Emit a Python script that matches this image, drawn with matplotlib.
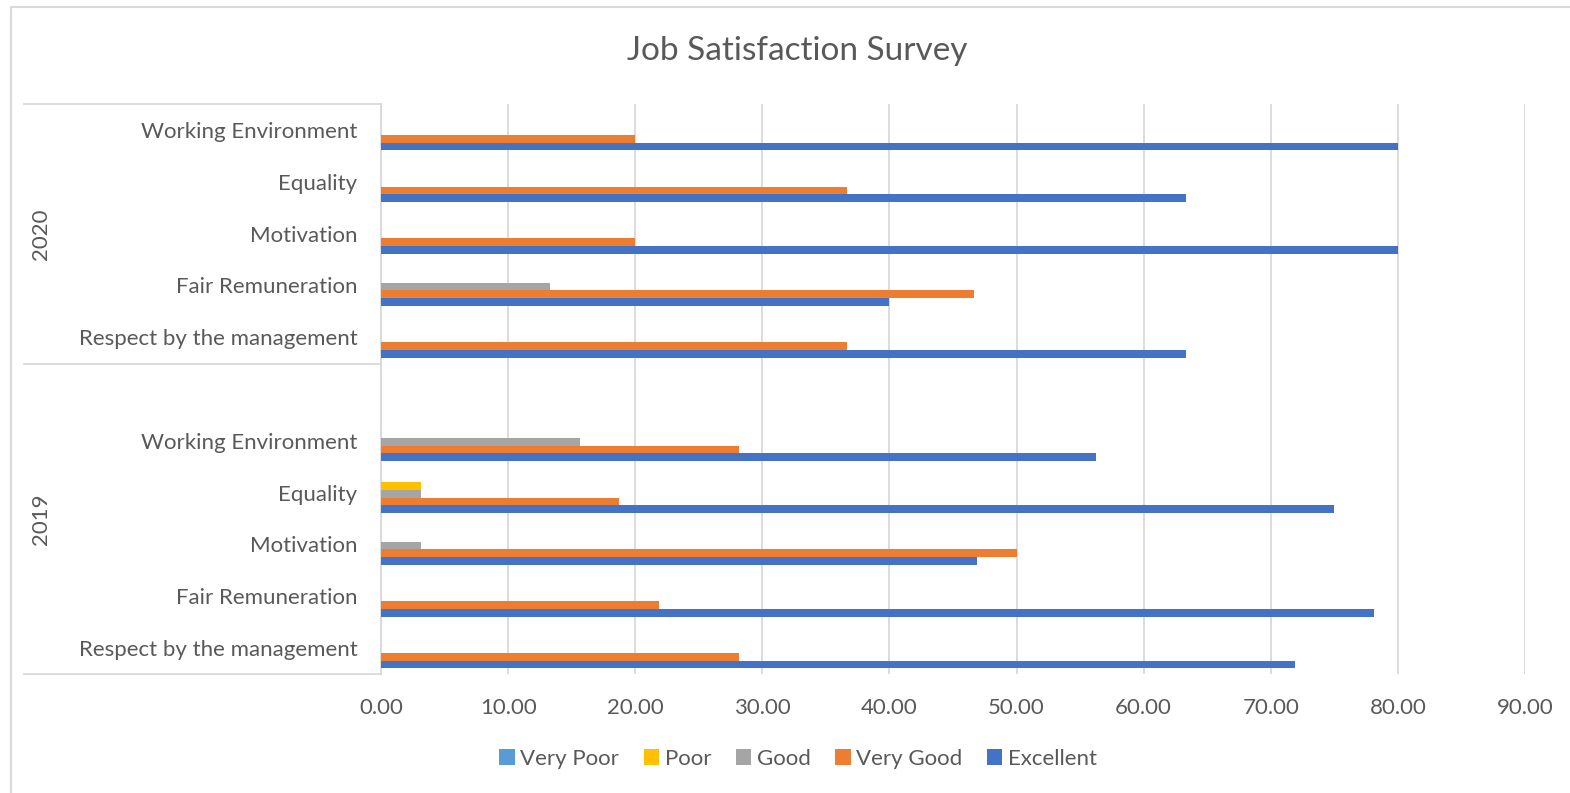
import matplotlib
matplotlib.use("Agg")
import matplotlib.pyplot as plt
from matplotlib.lines import Line2D
from matplotlib.patches import Rectangle, Patch
import numpy as np

plt.rcParams['font.family'] = ['Lato', 'DejaVu Sans']

title = "Job Satisfaction Survey"
years = ["2019", "2020"]
categories = ["Respect by the management", "Fair Remuneration", "Motivation",
              "Equality", "Working Environment"]
series = ["Very Poor", "Poor", "Good", "Very Good", "Excellent"]
colors = ["#5B9BD5", "#FFC000", "#A5A5A5", "#ED7D31", "#4472C4"]

# values per series, category order as in `categories`
very_poor_2019 = [0, 0, 0, 0, 0]
poor_2019 = [0, 0, 0, 3.13, 0]
good_2019 = [0, 0, 3.13, 3.13, 15.63]
very_good_2019 = [28.13, 21.88, 50.00, 18.75, 28.13]
excellent_2019 = [71.88, 78.13, 46.88, 75.00, 56.25]

very_poor_2020 = [0, 0, 0, 0, 0]
poor_2020 = [0, 0, 0, 0, 0]
good_2020 = [0, 13.33, 0, 0, 0]
very_good_2020 = [36.67, 46.67, 20.00, 36.67, 20.00]
excellent_2020 = [63.33, 40.00, 80.00, 63.33, 80.00]

x_ticks = [0, 10, 20, 30, 40, 50, 60, 70, 80, 90]

data_2019 = [very_poor_2019, poor_2019, good_2019, very_good_2019, excellent_2019]
data_2020 = [very_poor_2020, poor_2020, good_2020, very_good_2020, excellent_2020]

W, H = 1570, 793
fig = plt.figure(figsize=(W / 100, H / 100), dpi=100)
fig.patch.set_facecolor("white")

ax_left, ax_right, ax_top, ax_bottom = 381, 1525, 104, 674
ax = fig.add_axes([ax_left / W, 1 - ax_bottom / H, (ax_right - ax_left) / W, (ax_bottom - ax_top) / H])

# slot positions: 2019 group 0..4, blank slot 5, 2020 group 6..10
pos_2019 = np.arange(5)
pos_2020 = np.arange(6, 11)
bh = 0.149
shift = -0.02
offsets = {"Excellent": -2, "Very Good": -1, "Good": 0, "Poor": 1, "Very Poor": 2}

for s, c, v19, v20 in zip(series, colors, data_2019, data_2020):
    o = offsets[s] * bh + shift
    ax.barh(pos_2019 + o, v19, height=bh, color=c, zorder=3, linewidth=0)
    ax.barh(pos_2020 + o, v20, height=bh, color=c, zorder=3, linewidth=0)

ax.set_xlim(0, 90)
ax.set_ylim(-0.5, 10.5)
ax.set_xticks(x_ticks)
ax.set_xticklabels([f"{t:.2f}" for t in x_ticks])
ax.grid(axis="x", color="#D9D9D9", linewidth=1.3, zorder=0)
ax.set_axisbelow(True)

ticks_y = list(pos_2019) + list(pos_2020)
ax.set_yticks(ticks_y)
ax.set_yticklabels(categories + categories)
ax.tick_params(axis="y", length=0, pad=17, labelsize=16, labelcolor="#595959")
ax.tick_params(axis="x", length=0, pad=17, labelsize=16, labelcolor="#595959")

for sp in ["top", "right", "bottom"]:
    ax.spines[sp].set_visible(False)
ax.spines["left"].set_color("#D9D9D9")
ax.spines["left"].set_linewidth(1.3)

# multi-level category lines
for yy in [104, 364, 674]:
    fig.add_artist(Line2D([24 / W, ax_left / W], [1 - yy / H, 1 - yy / H],
                          color="#D9D9D9", linewidth=1.3))

# year labels
fig.text(41 / W, 1 - (104 + 364) / 2 / H, years[1], rotation=90, ha="center", va="center",
         fontsize=16, color="#595959")
fig.text(41 / W, 1 - (364 + 674) / 2 / H, years[0], rotation=90, ha="center", va="center",
         fontsize=16, color="#595959")

# title
fig.text(797 / W, 1 - 51 / H, title, ha="center", va="center", fontsize=24, color="#595959")

# chart border
fig.add_artist(Rectangle((11 / W, -0.1), 1.2, 1 - 7 / H + 0.1, transform=fig.transFigure,
                         fill=False, edgecolor="#D9D9D9", linewidth=1.5))

handles = [Patch(facecolor=c, edgecolor="none") for c in colors]
fig.legend(handles, series, loc="center", bbox_to_anchor=(798 / W, 1 - 759 / H), ncol=5,
           frameon=False, fontsize=16, labelcolor="#595959", handlelength=0.7,
           handleheight=0.7, handletextpad=0.25, columnspacing=1.1)

fig.savefig("out.png", dpi=100, facecolor="white")
